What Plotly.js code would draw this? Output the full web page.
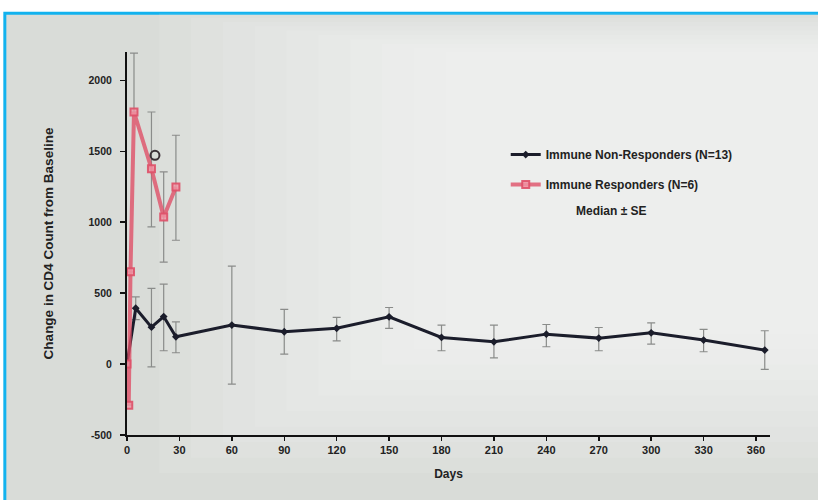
<!DOCTYPE html>
<html>
<head>
<meta charset="utf-8">
<script src="https://cdn.plot.ly/plotly-3.0.1.min.js"></script>
<style>html,body{margin:0;padding:0;background:#fff;}#chart{width:818px;height:500px;}</style>
</head>
<body>
<div id="chart"></div>
<script>
// Immune Non-Responders (N=13)
var nonRespDays  = [0, 5, 14, 21, 28, 60, 90, 120, 150, 180, 210, 240, 270, 300, 330, 365];
var nonRespVals  = [0, 394, 260, 335, 192, 275, 228, 252, 333, 188, 157, 211, 183, 220, 169, 99];
var nonRespUp    = [0, 80, 273, 228, 106, 415, 157, 77, 66, 87, 118, 68, 75, 71, 75, 136];
var nonRespDown  = [0, 80, 280, 241, 112, 416, 158, 88, 82, 94, 113, 89, 89, 79, 82, 136];

// Immune Responders (N=6)
var respDays = [0, 1, 2, 4, 14, 21, 28];
var respVals = [0, -290, 650, 1777, 1377, 1037, 1249];
var respUp   = [0, 0, 0, 415, 400, 318, 364];
var respDown = [0, 0, 0, 0, 410, 319, 376];

// stray open marker seen on the slide
var strayDays = [16];
var strayVals = [1472];

var xTicks = [0, 30, 60, 90, 120, 150, 180, 210, 240, 270, 300, 330, 360];
var yTicks = [-500, 0, 500, 1000, 1500, 2000];

var font = "Liberation Sans, Arial, sans-serif";

var traces = [
  {
    x: nonRespDays, y: nonRespVals, type: 'scatter', mode: 'lines+markers',
    name: 'Immune Non-Responders (N=13)',
    line: {color: '#1b1d2b', width: 3},
    marker: {symbol: 'diamond', size: 6, color: '#1b1d2b'},
    error_y: {type: 'data', symmetric: false, array: nonRespUp, arrayminus: nonRespDown,
              color: '#8a8c8a', thickness: 1.2, width: 4},
    legend: 'legend'
  },
  {
    x: respDays, y: respVals, type: 'scatter', mode: 'lines+markers',
    name: 'Immune Responders (N=6)',
    line: {color: 'rgba(222,80,104,0.8)', width: 4},
    marker: {symbol: 'square', size: 7, color: 'rgba(240,150,165,0.8)', line: {color: 'rgba(222,80,104,0.9)', width: 2}},
    error_y: {type: 'data', symmetric: false, array: respUp, arrayminus: respDown,
              color: '#8a8c8a', thickness: 1.2, width: 4},
    legend: 'legend2'
  },
  {
    x: strayDays, y: strayVals, type: 'scatter', mode: 'markers', showlegend: false,
    marker: {symbol: 'circle-open', size: 9, color: '#3a3036', line: {width: 2}}
  }
];

// soft light patch (photo vignetting) built from stacked translucent rectangles
var bgShapes = [
  {type: 'rect', xref: 'paper', yref: 'paper', x0: -0.19, x1: 1.08, y0: -0.18, y1: 1.101,
   layer: 'below', fillcolor: '#d9dcd8', line: {color: '#12b2ee', width: 3}}
];
for (var i = 0; i < 10; i++) {
  var s = i * 0.045;
  bgShapes.push({type: 'rect', xref: 'paper', yref: 'paper',
    x0: 0.05 + s * 1.1, x1: 1.08, y0: -0.1 + s * 0.9, y1: 1.101 - s * 0.25,
    layer: 'below', fillcolor: 'rgba(255,255,252,0.09)', line: {width: 0}});
}

var layout = {
  width: 818, height: 500,
  margin: {l: 127, r: 48, t: 52, b: 65},
  paper_bgcolor: '#ffffff',
  plot_bgcolor: 'rgba(0,0,0,0)',
  font: {family: font, color: '#222'},
  showlegend: true,
  xaxis: {
    range: [0, 368], tickvals: xTicks, ticktext: xTicks.map(String),
    showgrid: false, zeroline: false,
    showline: true, linecolor: '#111', linewidth: 2,
    ticks: 'outside', ticklen: 4, tickcolor: '#111', tickwidth: 1.5,
    tickfont: {size: 11, color: '#222', weight: 'bold'},
    title: {text: 'Days', font: {size: 12, color: '#222', weight: 'bold'}, standoff: 14}
  },
  yaxis: {
    range: [-500, 2200], tickvals: yTicks, ticktext: yTicks.map(String),
    showgrid: false, zeroline: false,
    showline: true, linecolor: '#111', linewidth: 2,
    ticks: 'outside', ticklen: 5, tickcolor: '#111', tickwidth: 1.5,
    ticklabelstandoff: 6,
    tickfont: {size: 10.5, color: '#222', weight: 'bold'},
    title: {text: 'Change in CD4 Count from Baseline', font: {size: 13.5, color: '#222', weight: 'bold'}, standoff: 32}
  },
  legend: {
    x: 0.589, y: 0.77, xanchor: 'left', yanchor: 'top',
    bgcolor: 'rgba(0,0,0,0)', font: {size: 12, color: '#222', weight: 'bold'}
  },
  legend2: {
    x: 0.589, y: 0.692, xanchor: 'left', yanchor: 'top',
    bgcolor: 'rgba(0,0,0,0)', font: {size: 12, color: '#222', weight: 'bold'}
  },
  annotations: [
    {text: 'Median ± SE', xref: 'paper', yref: 'paper', x: 0.754, y: 0.585,
     xanchor: 'center', yanchor: 'middle',
     showarrow: false, font: {size: 12, color: '#222', weight: 'bold'}}
  ],
  shapes: bgShapes
};

Plotly.newPlot('chart', traces, layout, {displayModeBar: false, staticPlot: true});
</script>
</body>
</html>
